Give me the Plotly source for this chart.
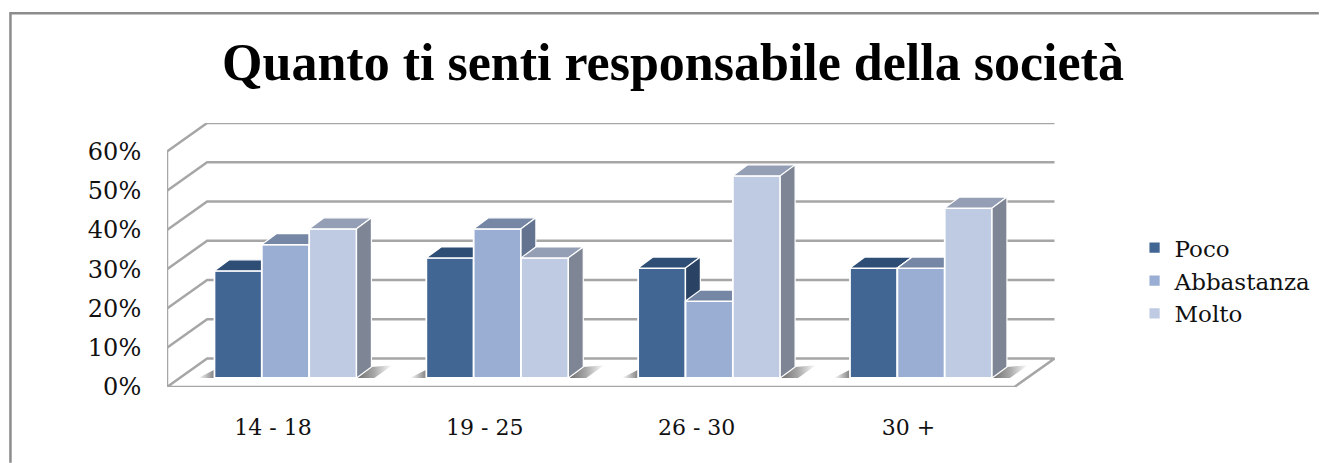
import plotly.graph_objects as go

# ---- data ----
categories = ["14 - 18", "19 - 25", "26 - 30", "30 +"]
poco = [27.3, 30.6, 28.0, 28.0]
abbastanza = [34.0, 38.0, 19.6, 28.0]
molto = [38.0, 30.6, 51.5, 43.3]
y_ticks = [0, 10, 20, 30, 40, 50, 60]
y_labels = ["0%", "10%", "20%", "30%", "40%", "50%", "60%"]
series_names = ["Poco", "Abbastanza", "Molto"]
series_values = [poco, abbastanza, molto]

# ---- style ----
front_colors = ["#426693", "#9AAED3", "#BFCBE3"]
top_colors = ["#2F4E76", "#7587A5", "#949FB5"]
side_colors = ["#2A4365", "#637390", "#7E8696"]
grid_color = "#A6A6A6"
border_color = "#8C8C8C"
serif = "DejaVu Serif"

W, H = 1329, 463
PX_L, PX_R, PX_T, PX_B = 166.5, 1062.7, 123.3, 387.3
PX_PER_CAT = 213.8
PX_PER_PCT = 3.925
n = len(categories)
x_max = (PX_R - PX_L) / PX_PER_CAT
y_max = (PX_B - PX_T) / PX_PER_PCT
wall_dx, wall_dy = 40.5 / PX_PER_CAT, 28.5 / PX_PER_PCT
base = 9.0 / PX_PER_PCT
bar_w = 47.8 / PX_PER_CAT
front_dx = 12.7 / PX_PER_CAT
depth_dx, depth_dy = 15.0 / PX_PER_CAT, 11.0 / PX_PER_PCT

fig = go.Figure()


def line(xs, ys, width=2.5):
    fig.add_trace(go.Scatter(x=xs, y=ys, mode="lines", showlegend=False, hoverinfo="skip",
                             cliponaxis=False, zorder=0,
                             line=dict(color=grid_color, width=width)))


# walls and gridlines
for t in y_ticks:
    if t > 0:
        line([0, wall_dx, n + wall_dx], [t, t + wall_dy, t + wall_dy])
line([0, 0], [0, y_ticks[-1]])
line([0, n, n + wall_dx, wall_dx, 0], [0, 0, wall_dy, wall_dy, 0])

# floor shadows
for k in range(n):
    left = k + 0.5 + front_dx - 1.5 * bar_w
    right = left + 3 * bar_w
    fig.add_trace(go.Scatter(
        x=[right, right + depth_dx, right + depth_dx * 2.4, right + depth_dx * 1.2, right],
        y=[base, base + depth_dy, base + depth_dy * 1.15, base, base],
        mode="lines", fill="toself", line=dict(width=0), showlegend=False, hoverinfo="skip",
        cliponaxis=False, zorder=1,
        fillgradient=dict(type="horizontal",
                          colorscale=[[0, "#6E6E6E"], [0.5, "#A8A8A8"], [1, "#FFFFFF"]])))
    fig.add_trace(go.Scatter(
        x=[left, left - depth_dx * 1.1, left, left],
        y=[base, base, base + depth_dy * 0.75, base],
        mode="lines", fill="toself", line=dict(width=0), showlegend=False, hoverinfo="skip",
        cliponaxis=False, zorder=1,
        fillgradient=dict(type="horizontal",
                          colorscale=[[0, "#FFFFFF"], [1, "#808080"]])))

# bars: each series painted over the previous one
for i, (name, vals) in enumerate(zip(series_names, series_values)):
    z = 2 + i
    centers = [k + 0.5 + front_dx + (i - 1) * bar_w for k in range(n)]
    for c, v in zip(centers, vals):
        x0, x1 = c - bar_w / 2, c + bar_w / 2
        top = base + v
        fig.add_trace(go.Scatter(
            x=[x0, x1, x1 + depth_dx, x0 + depth_dx, x0],
            y=[top, top, top + depth_dy, top + depth_dy, top],
            mode="lines", fill="toself", fillcolor=top_colors[i], showlegend=False,
            hoverinfo="skip", cliponaxis=False, zorder=z,
            line=dict(color="#FFFFFF", width=1.2)))
        fig.add_trace(go.Scatter(
            x=[x1, x1 + depth_dx, x1 + depth_dx, x1, x1],
            y=[base, base + depth_dy, top + depth_dy, top, base],
            mode="lines", fill="toself", fillcolor=side_colors[i], showlegend=False,
            hoverinfo="skip", cliponaxis=False, zorder=z,
            line=dict(color="#FFFFFF", width=1.2)))
    fig.add_trace(go.Bar(
        x=centers, y=vals, base=base, width=bar_w, name=name, legendgroup=name,
        marker=dict(color=front_colors[i], line=dict(color="#FFFFFF", width=1.8)),
        cliponaxis=False, zorder=z))

fig.update_layout(
    width=W, height=H, autosize=False, barmode="overlay",
    paper_bgcolor="#FFFFFF", plot_bgcolor="rgba(0,0,0,0)",
    margin=dict(l=PX_L, r=W - PX_R, t=PX_T, b=H - PX_B, pad=0),
    title=dict(text="<b>Quanto ti senti responsabile della società</b>",
               x=673 / W, xanchor="center", y=1 - 62 / H, yanchor="middle", yref="container",
               font=dict(family="Liberation Serif", size=52, color="#000000")),
    xaxis=dict(range=[0, x_max], tickmode="array",
               tickvals=[k + 0.5 for k in range(n)], ticktext=categories,
               showgrid=False, zeroline=False, showline=False, ticks="outside", ticklen=21,
               tickcolor="rgba(0,0,0,0)", fixedrange=True,
               tickfont=dict(family=serif, size=22, color="#111111")),
    yaxis=dict(range=[0, y_max], tickmode="array", tickvals=y_ticks, ticktext=y_labels,
               showgrid=False, zeroline=False, showline=False, ticks="outside", ticklen=20,
               tickcolor="rgba(0,0,0,0)", fixedrange=True,
               tickfont=dict(family=serif, size=24, color="#111111")),
    legend=dict(x=(1143 - PX_L) / (PX_R - PX_L), xanchor="left",
                y=(PX_B - 281) / (PX_B - PX_T), yanchor="middle", traceorder="normal",
                tracegroupgap=17, itemclick=False, itemdoubleclick=False,
                font=dict(family=serif, size=23, color="#111111"),
                bgcolor="rgba(0,0,0,0)"),
    shapes=[dict(type="path", xref="paper", yref="paper",
                 path="M {:.5f} {:.5f} L {:.5f} {:.5f} L {:.5f} {:.5f}".format(
                     (8.5 - PX_L) / (PX_R - PX_L), (PX_B - H) / (PX_B - PX_T),
                     (8.5 - PX_L) / (PX_R - PX_L), (PX_B - 13.5) / (PX_B - PX_T),
                     (W - PX_L) / (PX_R - PX_L), (PX_B - 13.5) / (PX_B - PX_T)),
                 line=dict(color=border_color, width=2.5))],
)
fig.write_html("out.html", config={"displayModeBar": False},
               post_script="document.body.style.margin='0';document.documentElement.style.overflow='hidden';")
